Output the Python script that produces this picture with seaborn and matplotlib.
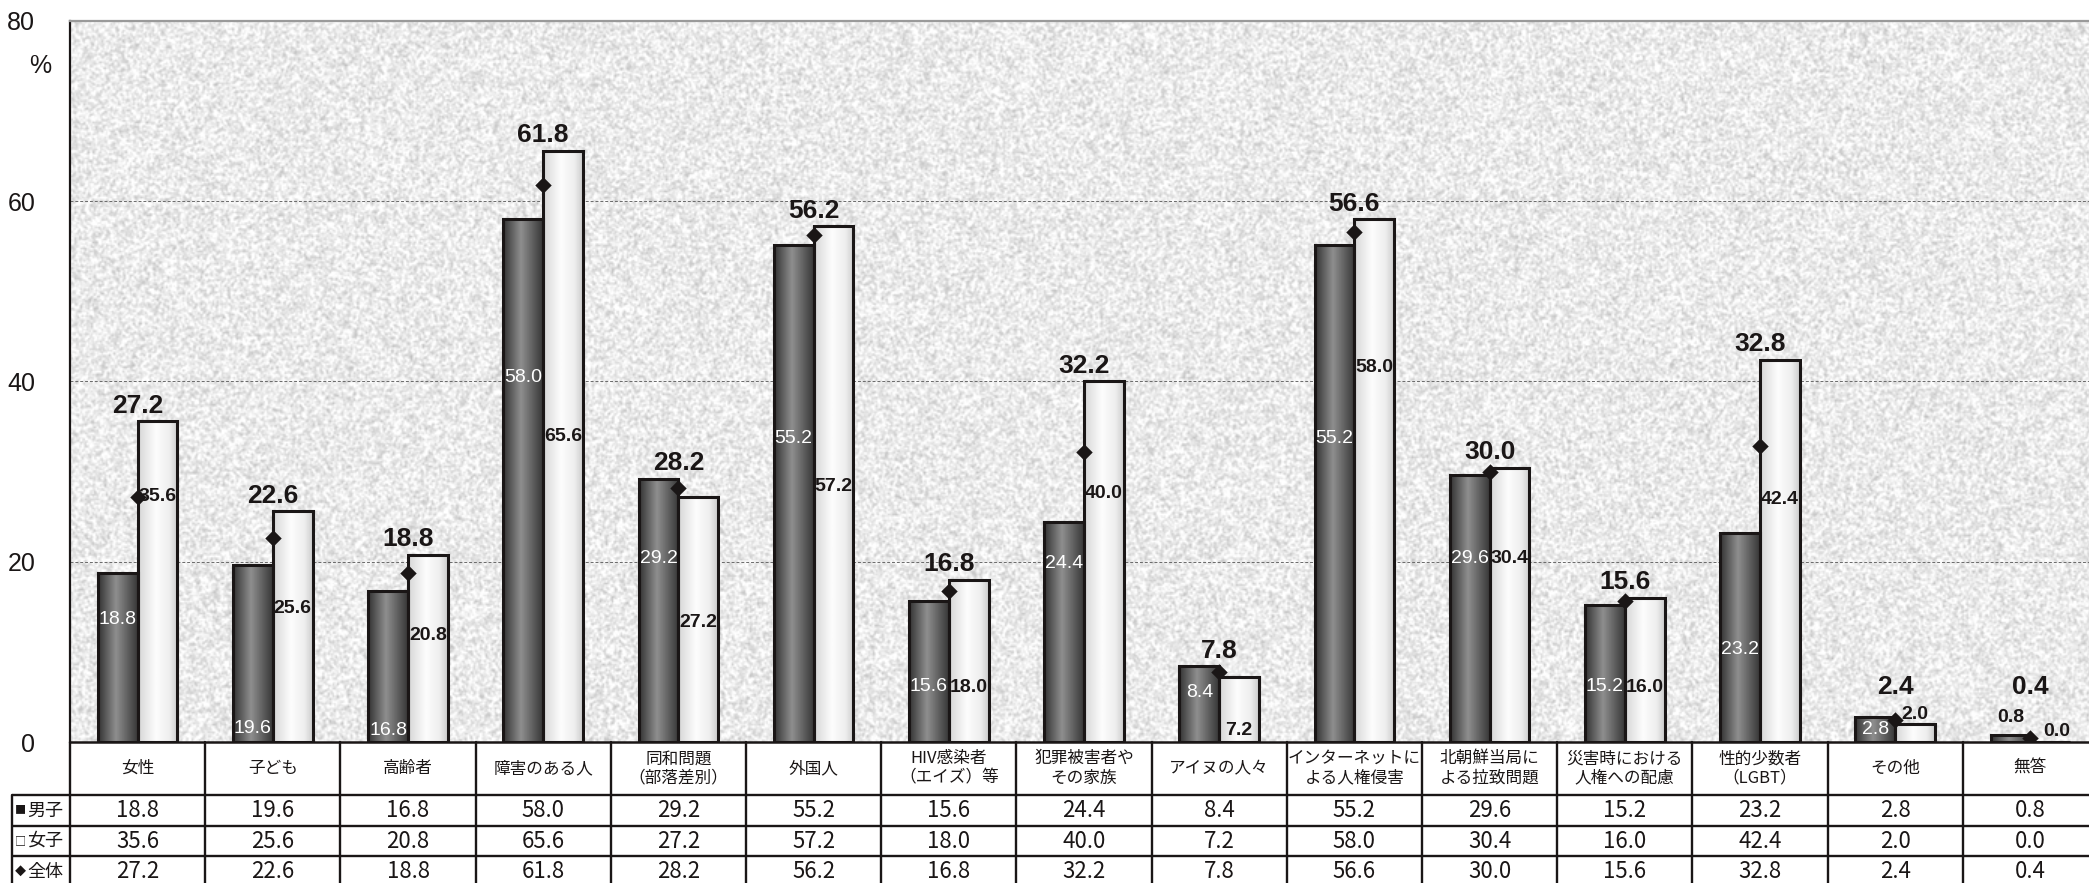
import numpy as np
import pandas as pd
import matplotlib
matplotlib.use("Agg")
import matplotlib.pyplot as plt
import seaborn as sns

# ---- data -------------------------------------------------------------
categories = [
    "女性", "子ども", "高齢者", "障害のある人", "同和問題\n（部落差別）", "外国人",
    "HIV感染者\n（エイズ）等", "犯罪被害者や\nその家族", "アイヌの人々",
    "インターネットに\nよる人権侵害", "北朝鮮当局に\nよる拉致問題",
    "災害時における\n人権への配慮", "性的少数者\n（LGBT）", "その他", "無答",
]
boys = [18.8, 19.6, 16.8, 58.0, 29.2, 55.2, 15.6, 24.4, 8.4, 55.2, 29.6, 15.2, 23.2, 2.8, 0.8]
girls = [35.6, 25.6, 20.8, 65.6, 27.2, 57.2, 18.0, 40.0, 7.2, 58.0, 30.4, 16.0, 42.4, 2.0, 0.0]
overall = [27.2, 22.6, 18.8, 61.8, 28.2, 56.2, 16.8, 32.2, 7.8, 56.6, 30.0, 15.6, 32.8, 2.4, 0.4]
group_names = ["男子", "女子"]
overall_name = "全体"
y_ticks = [0, 20, 40, 60, 80]

# heights (in %) where the per-bar value labels are placed
boys_label_y = [13.6, 1.5, 1.3, 40.4, 20.4, 33.7, 6.2, 19.8, 5.5, 33.7, 20.4, 6.2, 10.3, 1.4, 2.7]
girls_label_y = [27.2, 14.8, 11.8, 33.9, 13.3, 28.3, 6.1, 27.6, 1.3, 41.6, 20.4, 6.1, 26.9, 3.0, 1.2]

# ---- style ------------------------------------------------------------
sns.set_style("white")
plt.rcParams["font.family"] = ["Noto Sans CJK JP", "DejaVu Sans"]
NUM_FONT = ["Liberation Sans", "DejaVu Sans"]
INK = "#1a1616"

W, H = 2089, 883
fig = plt.figure(figsize=(W / 100, H / 100), dpi=100)
fig.patch.set_facecolor("white")

x0_px, x1_px = 70, 2098
top_px, base_px = 21, 742
rect = [x0_px / W, 1 - base_px / H, (x1_px - x0_px) / W, (base_px - top_px) / H]

# speckled paper background behind the plot area
ax_bg = fig.add_axes(rect, zorder=0)
rng = np.random.default_rng(11)
th, tw = 480, 1352
noise = rng.random((th + 1, tw + 1))
smooth = (noise[:-1, :-1] + noise[1:, :-1] + noise[:-1, 1:] + noise[1:, 1:]) / 4
tex = np.clip(0.92 + (smooth - 0.5) * 0.36, 0, 1)
ax_bg.imshow(tex, cmap="gray", vmin=0, vmax=1, aspect="auto", interpolation="bilinear",
             extent=[0, 1, 0, 1])
ax_bg.axis("off")

ax = fig.add_axes(rect, zorder=1)
ax.patch.set_alpha(0)

n = len(categories)
df = pd.DataFrame({
    "category": categories * 2,
    "group": [group_names[0]] * n + [group_names[1]] * n,
    "value": boys + girls,
})
sns.barplot(data=df, x="category", y="value", hue="group", order=categories,
            hue_order=group_names, palette=["#555555", "#f2f2f2"], width=0.59,
            edgecolor=INK, linewidth=2.2, errorbar=None, legend=False, ax=ax, zorder=3)


def profile(stops, k=64):
    xs = np.linspace(0, 1, k)
    pos, vals = zip(*stops)
    return np.interp(xs, pos, vals)


boy_grad = profile([(0, 0.20), (0.45, 0.56), (1, 0.22)])[None, :]
girl_grad = profile([(0, 0.84), (0.45, 0.99), (0.8, 0.93), (1, 0.80)])[None, :]

# metallic shading clipped to each bar
for p in list(ax.patches):
    w, h, x = p.get_width(), p.get_height(), p.get_x()
    if h <= 0:
        continue
    centre = x + w / 2
    is_boy = centre < round(centre)
    im = ax.imshow(boy_grad if is_boy else girl_grad, cmap="gray", vmin=0, vmax=1,
                   extent=[x, x + w, 0, h], aspect="auto", interpolation="bilinear",
                   zorder=2.9)
    im.set_clip_path(p)
    p.set_facecolor("none")

xs = np.arange(n)
ax.scatter(xs, overall, marker="D", s=70, color=INK, zorder=6, linewidths=0)

off = 0.59 / 4
for i in range(n):
    ax.text(i, max(boys[i], girls[i], 4.4) + 0.4, f"{overall[i]:.1f}", ha="center",
            va="bottom", fontsize=19, fontweight="bold", family=NUM_FONT, color=INK, zorder=7)
    inside = boys[i] > 2.0
    ax.text(i - off, boys_label_y[i], f"{boys[i]:.1f}", ha="center", va="center",
            fontsize=14, fontweight="normal" if inside else "bold", family=NUM_FONT,
            color="white" if inside else INK, zorder=7)
    gx = i + off + (0.05 if girls[i] == 0 else 0)
    ax.text(gx, girls_label_y[i], f"{girls[i]:.1f}", ha="center", va="center",
            fontsize=14, fontweight="bold", family=NUM_FONT, color=INK, zorder=7)

ax.set_xlim(-0.5, n - 0.5)
ax.set_ylim(0, 80)
ax.set_yticks(y_ticks)
ax.set_yticklabels([str(t) for t in y_ticks], fontsize=18, family=NUM_FONT, color=INK)
ax.tick_params(axis="y", length=0, pad=25)
ax.set_xticks([])
ax.set_xlabel("")
ax.set_ylabel("")
ax.yaxis.grid(True, color="#6a6a6a", lw=0.7, ls=(0, (3, 2)))
ax.set_axisbelow(True)
ax.spines["right"].set_visible(False)
ax.spines["top"].set_color("#9a9a9a")
ax.spines["top"].set_linewidth(1.6)
ax.spines["left"].set_color(INK)
ax.spines["left"].set_linewidth(1.6)
ax.spines["bottom"].set_color(INK)
ax.spines["bottom"].set_linewidth(1.8)
fig.text(40 / W, 1 - 66 / H, "%", ha="center", va="center", fontsize=18,
         family=NUM_FONT, color=INK)

# ---- data table under the bars ----------------------------------------
tab_h = H - base_px
ax_t = fig.add_axes([x0_px / W, 0, (x1_px - x0_px) / W, tab_h / H], zorder=2)
ax_t.set_xlim(-0.5, n - 0.5)
ax_t.set_ylim(0, tab_h)
ax_t.axis("off")
cat_px = (x1_px - x0_px) / n
lab_left = -0.5 - (x0_px - 12) / cat_px
rows_y = [H - 795, H - 826, H - 856]
lw_t = 1.7
for y in rows_y:
    ax_t.plot([lab_left, n - 0.5], [y, y], color=INK, lw=lw_t, clip_on=False,
              solid_capstyle="butt")
ax_t.plot([lab_left, lab_left], [rows_y[0], -2], color=INK, lw=lw_t, clip_on=False)
for k in range(n + 1):
    ax_t.plot([k - 0.5, k - 0.5], [tab_h, -2], color=INK, lw=lw_t, clip_on=False)

hdr_y = (tab_h + rows_y[0]) / 2
row_cy = [(rows_y[0] + rows_y[1]) / 2, (rows_y[1] + rows_y[2]) / 2, rows_y[2] / 2 - 2]
for i, c in enumerate(categories):
    ax_t.text(i, hdr_y, c, ha="center", va="center", fontsize=12, linespacing=1.2,
              color=INK)
    for cy, vals in zip(row_cy, [boys, girls, overall]):
        ax_t.text(i, cy, f"{vals[i]:.1f}", ha="center", va="center", fontsize=16,
                  color=INK)

icons = ["■", "□", "◆"]
names = group_names + [overall_name]
for cy, ic, nm in zip(row_cy, icons, names):
    ax_t.text(lab_left + 0.02, cy, ic, ha="left", va="center", fontsize=8,
              color=INK, clip_on=False)
    ax_t.text(lab_left + 0.11, cy, nm, ha="left", va="center", fontsize=13,
              color=INK, clip_on=False)

fig.savefig("out.png", dpi=100)
